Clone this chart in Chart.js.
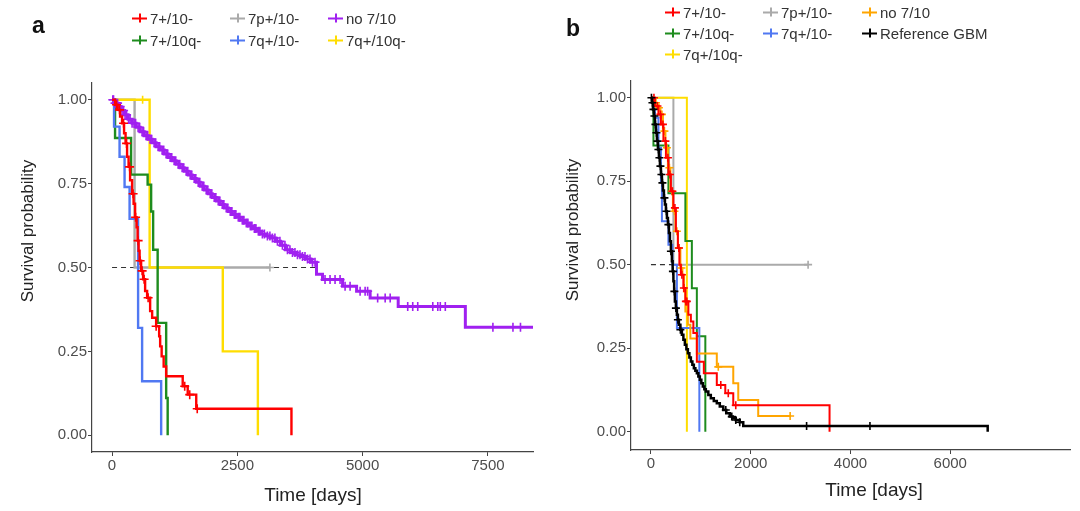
<!DOCTYPE html>
<html>
<head>
<meta charset="utf-8">
<script src="https://cdn.jsdelivr.net/npm/chart.js@4.4.1/dist/chart.umd.min.js"></script>
<style>
  body { margin: 0; background: #fff; width: 1080px; height: 511px; overflow: hidden; position: relative;
         font-family: "Liberation Sans", Arial, sans-serif; }
  canvas { position: absolute; top: 0; }
  .panel { position: absolute; font-weight: bold; font-size: 23px; color: #111; }
  .ytitle { position: absolute; font-size: 17px; color: #222; white-space: nowrap;
            transform: translate(-50%, -50%) rotate(-90deg); }
  .xtitle { position: absolute; font-size: 19px; color: #222; white-space: nowrap; transform: translate(-50%, -50%); }
  .leg { position: absolute; font-size: 15px; color: #333; white-space: nowrap; display: flex; align-items: center;
         transform: translateY(-50%); }
  .mk { display: inline-block; width: 15px; height: 9px; position: relative; margin-right: 3px; }
  .mk::before { content: ""; position: absolute; left: 0; right: 0; top: 4px; height: 2px; background: currentColor; }
  .mk::after { content: ""; position: absolute; left: 6.5px; width: 2px; top: 0; bottom: 0; background: currentColor; }
</style>
</head>
<body>
<canvas id="chartA" width="540" height="511" style="left:0"></canvas>
<canvas id="chartB" width="540" height="511" style="left:540px"></canvas>

<script>
// --- Tick labels ---
const yTicks = [0, 0.25, 0.5, 0.75, 1];
const xTicksA = [0, 2500, 5000, 7500];
const xTicksB = [0, 2000, 4000, 6000];

// --- Legend order (row by row, 3 columns) ---
const legendA = ['7+/10-', '7p+/10-', 'no 7/10', '7+/10q-', '7q+/10-', '7q+/10q-'];
const legendB = ['7+/10-', '7p+/10-', 'no 7/10', '7+/10q-', '7q+/10-', 'Reference GBM', '7q+/10q-'];

// --- Colours ---
const colorsA = { '7+/10-': '#FF0000', '7+/10q-': '#1E8C1E', '7p+/10-': '#AAAAAA',
                  '7q+/10-': '#5078F2', 'no 7/10': '#A020F0', '7q+/10q-': '#FFDD00' };
const colorsB = { '7+/10-': '#FF0000', '7+/10q-': '#1E8C1E', '7p+/10-': '#AAAAAA',
                  '7q+/10-': '#5078F2', 'no 7/10': '#FFA500', '7q+/10q-': '#FFDD00', 'Reference GBM': '#000000' };

// --- Panel a: Kaplan-Meier steps [days, survival] and censor times ---
const aRed = [[0,1],[60,0.985],[110,0.97],[160,0.95],[200,0.93],[240,0.9],[270,0.87],[300,0.83],[330,0.8],
  [360,0.76],[400,0.72],[430,0.69],[460,0.65],[490,0.62],[510,0.58],[530,0.55],[550,0.52],[580,0.49],
  [620,0.465],[660,0.43],[700,0.41],[760,0.37],[800,0.35],[880,0.325],[940,0.295],[960,0.265],[990,0.235],
  [1030,0.205],[1080,0.176],[1410,0.146],[1510,0.121],[1680,0.079],[3580,0]];
const aRedCens = [90,150,230,290,350,420,470,520,560,600,640,720,880,1450,1550,1700];
const aGreen = [[0,1],[60,0.886],[380,0.777],[710,0.747],[780,0.667],[820,0.553],[910,0.335],[1080,0.111],[1110,0]];
const aGray = [[0,1],[450,0.5],[3150,0.5]];
const aGrayCens = [3150];
const aBlue = [[0,1],[40,0.92],[150,0.83],[250,0.74],[350,0.645],[520,0.32],[600,0.161],[980,0]];
const aYellow = [[0,1],[750,0.5],[2210,0.25],[2910,0]];
const aYellowCens = [610];
const aPurple = [[0,1],[50,0.99],[120,0.98],[180,0.968],[250,0.955],[320,0.942],[400,0.93],[480,0.918],
  [560,0.905],[640,0.893],[720,0.882],[800,0.872],[880,0.86],[960,0.85],[1040,0.838],[1120,0.828],
  [1200,0.818],[1280,0.808],[1360,0.797],[1440,0.787],[1520,0.776],[1600,0.765],[1680,0.754],[1760,0.742],
  [1840,0.731],[1920,0.72],[2000,0.709],[2080,0.698],[2160,0.688],[2240,0.677],[2320,0.667],[2400,0.658],
  [2480,0.65],[2560,0.641],[2640,0.633],[2720,0.624],[2800,0.616],[2880,0.608],[2960,0.6],[3060,0.594],
  [3160,0.588],[3260,0.578],[3360,0.566],[3460,0.553],[3560,0.545],[3660,0.538],[3760,0.533],[3860,0.525],
  [3960,0.516],[4080,0.48],[4200,0.464],[4600,0.444],[4880,0.429],[5150,0.409],[5710,0.384],[7050,0.322],
  [8400,0.322]];
const aPurpleCens = [15,30,60,90,110,140,160,200,230,260,290,330,360,400,440,470,520,550,600,630,680,710,
  760,790,840,870,920,950,1000,1030,1080,1110,1160,1190,1240,1270,1320,1350,1400,1430,1480,1510,1560,1590,
  1640,1670,1720,1750,1800,1830,1880,1910,1960,1990,2040,2070,2120,2150,2200,2230,2280,2310,2360,2390,2440,
  2470,2520,2550,2600,2630,2680,2710,2760,2790,2840,2870,2920,2950,3000,3040,3100,3150,3200,3250,3300,3350,
  3400,3450,3500,3550,3600,3650,3700,3750,3800,3850,3900,3950,4000,4050,4250,4350,4450,4550,4650,4750,4950,
  5050,5100,5300,5450,5550,5900,6000,6100,6400,6500,6550,6650,7600,8000,8150];
const aMedian = [[0,0.5],[4080,0.5]];

// --- Panel b ---
const bRed = [[0,1],[80,0.975],[150,0.95],[200,0.92],[250,0.87],[300,0.82],[350,0.77],[400,0.72],[450,0.67],
  [500,0.6],[540,0.55],[570,0.5],[600,0.47],[650,0.43],[690,0.39],[750,0.35],[800,0.33],[850,0.295],
  [920,0.209],[1060,0.175],[1320,0.14],[1490,0.115],[1650,0.079],[3580,0]];
const bRedCens = [60,130,190,240,290,340,380,430,480,560,620,660,700,720,1400,1550,1700];
const bGreen = [[0,1],[50,0.857],[350,0.714],[690,0.571],[820,0.429],[920,0.286],[1090,0]];
const bGray = [[0,1],[450,0.5],[3150,0.5]];
const bGrayCens = [3150];
const bBlue = [[0,1],[80,0.94],[150,0.85],[200,0.75],[220,0.63],[350,0.56],[430,0.5],[520,0.31],[970,0]];
const bYellow = [[0,1],[720,0]];
const bOrange = [[0,1],[60,0.985],[120,0.97],[190,0.95],[240,0.9],[290,0.85],[340,0.79],[390,0.72],
  [440,0.66],[490,0.6],[540,0.55],[590,0.49],[630,0.47],[660,0.42],[690,0.36],[740,0.32],[790,0.279],
  [920,0.234],[1320,0.194],[1650,0.145],[1750,0.095],[2150,0.047],[2790,0.047]];
const bOrangeCens = [100,160,220,270,320,370,420,470,520,560,610,1350,2790];
const bBlack = [[0,1],[20,0.985],[40,0.965],[60,0.945],[80,0.92],[100,0.895],[120,0.87],[140,0.845],
  [160,0.82],[180,0.795],[200,0.77],[220,0.745],[240,0.722],[260,0.7],[280,0.68],[300,0.66],[320,0.64],
  [340,0.62],[360,0.595],[380,0.57],[400,0.54],[420,0.51],[435,0.48],[450,0.45],[465,0.42],[480,0.39],
  [500,0.37],[520,0.35],[540,0.335],[560,0.32],[590,0.305],[620,0.29],[650,0.275],[680,0.26],[710,0.247],
  [740,0.235],[770,0.222],[800,0.21],[830,0.2],[860,0.19],[890,0.182],[920,0.175],[950,0.165],[980,0.155],
  [1010,0.145],[1040,0.135],[1070,0.127],[1100,0.12],[1150,0.11],[1200,0.1],[1260,0.092],[1320,0.085],
  [1380,0.075],[1450,0.065],[1510,0.055],[1580,0.045],[1640,0.04],[1700,0.035],[1780,0.028],[1850,0.017],
  [6750,0]];
const bBlackCens = [10,30,50,70,90,110,130,150,170,190,210,230,270,310,350,400,440,470,500,540,590,
  1500,1620,1700,1780,3120,4390];
const bMedian = [[0,0.5],[720,0.5]];

// --- Helpers ---
function survAt(steps, t) {
  let s = steps[0][1];
  for (const [x, y] of steps) { if (x <= t) s = y; }
  return s;
}

function curve(color, steps, width) {
  return { type: 'line', data: steps.map(([x, y]) => ({ x, y })), stepped: true, borderColor: color,
           borderWidth: width, pointRadius: 0, fill: false, tension: 0 };
}

function censor(color, steps, times, r) {
  return { type: 'line', data: times.map(t => ({ x: t, y: survAt(steps, t) })), showLine: false,
           pointStyle: 'cross', pointRadius: r || 4, borderColor: color, borderWidth: 1.6, pointHoverRadius: 0 };
}

function median(pts) {
  return { type: 'line', data: pts.map(([x, y]) => ({ x, y })), borderColor: '#333', borderWidth: 1.2,
           borderDash: [5, 4], pointRadius: 0, fill: false };
}

function makeChart(id, datasets, xTicks, box) {
  const tickFont = { family: '"Liberation Sans", Arial, sans-serif', size: 15 };
  new Chart(document.getElementById(id), {
    type: 'line',
    data: { datasets },
    options: {
      responsive: false,
      animation: false,
      devicePixelRatio: 1,
      layout: { padding: { top: box.top, right: box.right, left: 0, bottom: 0 } },
      plugins: { legend: { display: false }, tooltip: { enabled: false } },
      scales: {
        x: {
          type: 'linear', min: -400, max: 8400,
          afterBuildTicks: s => { s.ticks = xTicks.map(v => ({ value: v })); },
          afterFit: s => { s.height = box.xh; },
          ticks: { color: '#4d4d4d', font: tickFont, padding: 1, maxRotation: 0, callback: v => String(v) },
          grid: { drawOnChartArea: false, tickLength: 4, color: '#444' },
          border: { color: '#444', width: 1.2 }
        },
        y: {
          type: 'linear', min: box.ymin, max: 1.05,
          afterBuildTicks: s => { s.ticks = yTicks.map(v => ({ value: v })); },
          afterFit: s => { s.width = box.yw; },
          ticks: { color: '#4d4d4d', font: tickFont, padding: 1, callback: v => v.toFixed(2) },
          grid: { drawOnChartArea: false, tickLength: 4, color: '#444' },
          border: { color: '#444', width: 1.2 }
        }
      }
    }
  });
}

// --- Panel a ---
const cA = colorsA;
makeChart('chartA', [
  censor(cA['7+/10-'], aRed, aRedCens, 4.5),
  curve(cA['7+/10-'], aRed, 2.4),
  censor(cA['no 7/10'], aPurple, aPurpleCens, 4.5),
  curve(cA['no 7/10'], aPurple, 3),
  curve(cA['7q+/10-'], aBlue, 2.4),
  curve(cA['7+/10q-'], aGreen, 2.4),
  censor(cA['7q+/10q-'], aYellow, aYellowCens),
  curve(cA['7q+/10q-'], aYellow, 2.4),
  censor(cA['7p+/10-'], aGray, aGrayCens),
  curve(cA['7p+/10-'], aGray, 2.4),
  median(aMedian)
], xTicksA, { top: 83, right: 7, xh: 59, yw: 92, ymin: -0.05 });

// --- Panel b ---
const cB = colorsB;
makeChart('chartB', [
  censor(cB['Reference GBM'], bBlack, bBlackCens),
  curve(cB['Reference GBM'], bBlack, 2.5),
  censor(cB['7+/10-'], bRed, bRedCens),
  curve(cB['7+/10-'], bRed, 2),
  censor(cB['no 7/10'], bOrange, bOrangeCens),
  curve(cB['no 7/10'], bOrange, 2),
  curve(cB['7q+/10-'], bBlue, 2),
  curve(cB['7+/10q-'], bGreen, 2),
  curve(cB['7q+/10q-'], bYellow, 2),
  censor(cB['7p+/10-'], bGray, bGrayCens),
  curve(cB['7p+/10-'], bGray, 2),
  median(bMedian)
], xTicksB, { top: 81, right: 10, xh: 61, yw: 91, ymin: -0.055 });

// --- Text: panel letters, axis titles, legends ---
function addText(cls, text, x, y, color) {
  const d = document.createElement('div');
  d.className = cls;
  d.style.left = x + 'px';
  d.style.top = y + 'px';
  if (color) {
    const m = document.createElement('span');
    m.className = 'mk';
    m.style.color = color;
    d.appendChild(m);
  }
  d.appendChild(document.createTextNode(text));
  document.body.appendChild(d);
}

addText('panel', 'a', 32, 12);
addText('panel', 'b', 566, 15);
addText('ytitle', 'Survival probability', 28, 231);
addText('ytitle', 'Survival probability', 573, 230);
addText('xtitle', 'Time [days]', 313, 495);
addText('xtitle', 'Time [days]', 874, 490);

const legColsA = [132, 230, 328], legRowsA = [18, 40];
legendA.forEach((name, i) => addText('leg', name, legColsA[i % 3], legRowsA[Math.floor(i / 3)], colorsA[name]));
const legColsB = [665, 763, 862], legRowsB = [12, 33, 54];
legendB.forEach((name, i) => addText('leg', name, legColsB[i % 3], legRowsB[Math.floor(i / 3)], colorsB[name]));
</script>
</body>
</html>
